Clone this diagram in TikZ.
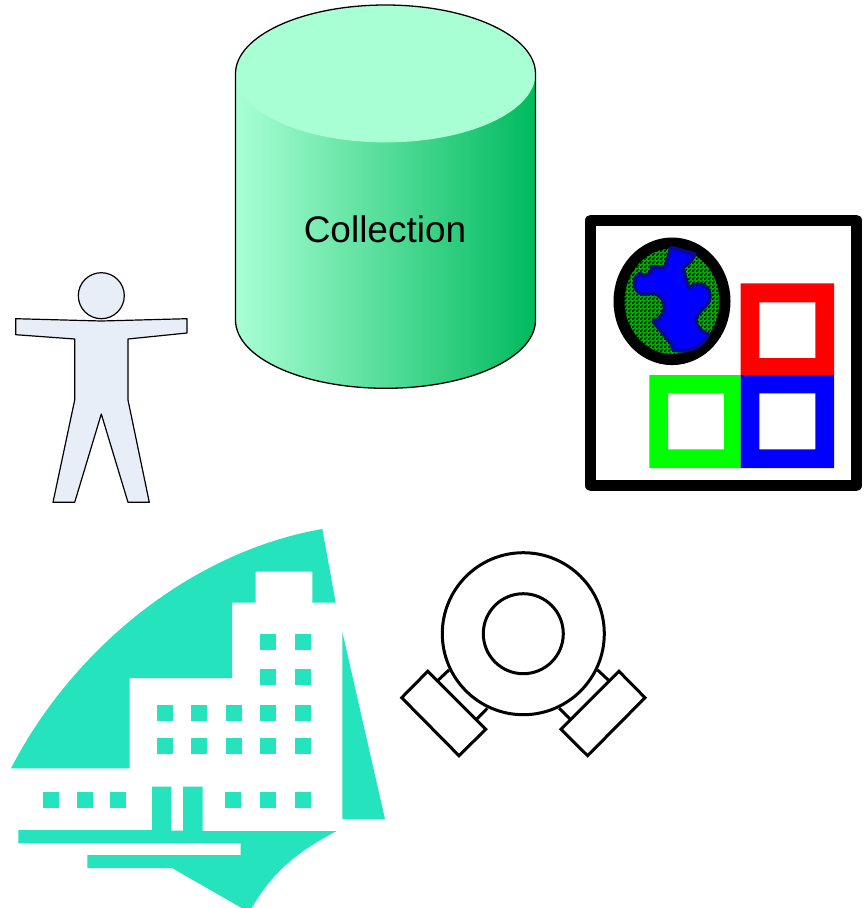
\documentclass[tikz,border=0pt]{standalone}
\usepackage{fontspec}
\setmainfont{Liberation Sans}
\usetikzlibrary{patterns}
\pgfdeclarepatternformonly{chk}{\pgfpointorigin}{\pgfqpoint{4pt}{4pt}}{\pgfqpoint{4pt}{4pt}}{%
  \pgfpathrectangle{\pgfpointorigin}{\pgfqpoint{2pt}{2pt}}%
  \pgfpathrectangle{\pgfqpoint{2pt}{2pt}}{\pgfqpoint{2pt}{2pt}}%
  \pgfusepath{fill}}
\definecolor{teal1}{HTML}{24E3BD}
\definecolor{cyltop}{HTML}{A9FFD4}
\definecolor{cyldark}{HTML}{00BA5E}
\definecolor{bodyblue}{HTML}{E8EEF8}
\definecolor{landedge}{HTML}{0A0A8C}
\definecolor{globegreen}{HTML}{00B000}
\tikzset{
  teal shape/.style={fill=teal1,draw=none},
  person/.style={fill=bodyblue,draw=black,line width=1.2pt,line join=round},
  pump/.style={draw=black,line width=3pt,fill=white,line join=miter},
  pumpline/.style={draw=black,line width=3pt},
  cyl/.style={draw=black,line width=1.3pt},
  win/.pic={\fill[teal1] (0,0) rectangle (16,16);},
}
\begin{document}
\begin{tikzpicture}[x=1pt,y=-1pt]
\useasboundingbox (0,0) rectangle (866,908);
\fill[white] (0,0) rectangle (866,908);
% cylinder
\shade[left color=cyltop,right color=cyldark]
  (235.5,73.7) -- (235.5,320) .. controls (235.5,358) and (303,388.3) .. (385.5,388.3)
  .. controls (468,388.3) and (535.5,358) .. (535.5,320) -- (535.5,73.7) -- cycle;
\fill[cyltop] (385.5,73.7) ellipse [x radius=150,y radius=68.7];
\draw[cyl] (235.5,320) -- (235.5,73.7)
  .. controls (235.5,35.7) and (303,5) .. (385.5,5)
  .. controls (468,5) and (535.5,35.7) .. (535.5,73.7)
  -- (535.5,320)
  .. controls (535.5,358) and (468,388.3) .. (385.5,388.3)
  .. controls (303,388.3) and (235.5,358) .. (235.5,320) -- cycle;
\node[anchor=base,inner sep=0pt,font=\fontsize{37}{40}\selectfont] (collection) at (385,242.3) {Collection};
% person
\draw[person] (15.7,318.7) -- (101.3,321) -- (187,318.7) -- (187,333) -- (128,339) -- (128,400)
  -- (149.3,502.3) -- (128,502.3) -- (101.3,414) -- (74.7,502.3) -- (53,502.3) -- (74.7,400)
  -- (74.7,339) -- (15.7,334.7) -- cycle;
\draw[person] (101.3,295.7) circle [radius=23];
% map frame
\draw[line width=11pt,line join=round,fill=white] (590.8,220) rectangle (856.2,485.8);
\fill[red,even odd rule] (740.7,283.3) rectangle (834,375) (759.3,302.3) rectangle (815.3,358);
\fill[green,even odd rule] (649.3,375) rectangle (740.7,468) (668,393.3) rectangle (724,449.3);
\fill[blue,even odd rule] (740.7,375) rectangle (834,468) (759.3,393.3) rectangle (815.3,449.3);
% globe
\fill[globegreen] (672,301.3) ellipse [x radius=53,y radius=58.3];
\fill[pattern=chk,pattern color=black] (672,301.3) ellipse [x radius=53,y radius=58.3];
\draw[line width=11pt] (672,301.3) ellipse [x radius=53,y radius=58.3];
\draw[fill=blue,draw=landedge,line width=3.5pt,line join=round]
  (671,247.3) -- (695,254)
  .. controls (691.7,261.7) and (685,266.7) .. (682.7,267.7)
  -- (688.7,288.3)
  .. controls (698.3,280) and (710,285) .. (710,296.7)
  .. controls (710,306.7) and (696.7,310) .. (696,320)
  .. controls (696,328.3) and (705,333.3) .. (708.7,334.3)
  .. controls (703.3,346.7) and (690,353.3) .. (673.3,350)
  -- (671,343.3) -- (653.3,321.7)
  .. controls (666.7,316.7) and (668.3,300) .. (656.7,294.3)
  .. controls (651.7,291.7) and (645,296) .. (640,293.3)
  .. controls (631.7,288.3) and (633.3,276.7) .. (640,273.3)
  .. controls (645,278.3) and (653.3,273.3) .. (651.7,266.7)
  -- (665,267.3) -- cycle;
% building
\path[teal shape] (11,768.3) .. controls (72,650) and (190,552) .. (322.3,529)
  -- (335.7,602.7) -- (312.3,602.7) -- (312.3,571.7) -- (255.7,571.7) -- (255.7,602.7)
  -- (232,602.7) -- (232,678) -- (129.7,678) -- (129.7,768.3) -- cycle;
\path[teal shape] (342.3,631.7) -- (385,819) -- (342.3,819) -- cycle;
\path[teal shape] (18.3,830) -- (152,830) -- (152,786.7) -- (171.3,786.7) -- (171.3,830.7)
  -- (183,830.7) -- (183,786.7) -- (202.7,786.7) -- (202.7,831) -- (336.7,831)
  .. controls (295,853) and (272,873) .. (251.7,908) -- (241.7,908) -- (172,868)
  -- (87.3,868) -- (87.3,855) -- (240.7,855) -- (240.7,843.3) -- (18.3,843.3) -- cycle;
\foreach \wx/\wy in {260/634,295/634,260/669,295/669,
  157/705,191/705,226/705,260/705,295/705,
  157/738,191/738,226/738,260/738,295/738,
  43/792,77/792,110/792,225/792,260/792,295/792}
  \pic at (\wx,\wy) {win};
% pump
\draw[pumpline] (438.3,680) -- (449,670);
\draw[pumpline] (476.7,719) -- (487.3,708.3);
\draw[pumpline] (608.3,680) -- (597.6,670);
\draw[pumpline] (570,719) -- (559.3,708.3);
\draw[pump] (523.3,633.7) circle [radius=81];
\draw[pump] (523.3,633.7) circle [radius=40];
\draw[pump] (427.7,671.3) -- (401.7,697.7) -- (459,755.7) -- (485.7,729.3) -- cycle;
\draw[pump] (619,671.3) -- (645,697.7) -- (587.6,755.7) -- (561,729.3) -- cycle;
\end{tikzpicture}
\end{document}
